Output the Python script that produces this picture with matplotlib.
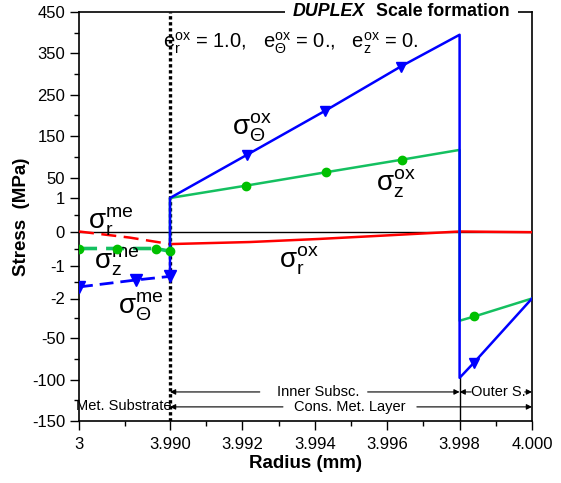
import matplotlib
matplotlib.use("Agg")
import matplotlib.pyplot as plt
import numpy as np
from matplotlib.patches import Rectangle

plt.rcParams["font.family"] = ["Liberation Sans", "DejaVu Sans"]
plt.rcParams["mathtext.fontset"] = "custom"
plt.rcParams["mathtext.rm"] = "Liberation Sans"
plt.rcParams["mathtext.it"] = "Liberation Sans"
plt.rcParams["mathtext.bf"] = "Liberation Sans:bold"
plt.rcParams["mathtext.default"] = "regular"

# --- DATA ---
# metal substrate (dashed)
r_me_x = [3.0, 3.555, 3.990]
r_me_y = [0.0, -0.18, -0.37]
z_me_x = [3.0, 3.417, 3.834, 3.990]
z_me_y = [-0.50, -0.50, -0.50, -0.58]
t_me_x = [3.0, 3.617, 3.990]
t_me_y = [-1.65, -1.44, -1.33]

# oxide scale (solid)
t_ox_x = [3.990, 3.990, 3.99212, 3.99428, 3.99637, 3.998, 3.998, 3.99839, 4.000]
t_ox_y = [-1.33, 1.0, 104.5, 211.0, 318.0, 395.0, -98.0, -80.0, -2.0]
t_ox_mark_x = [3.99212, 3.99428, 3.99637, 3.99839]
t_ox_mark_y = [104.5, 211.0, 318.0, -80.0]

z_ox_x = [3.990, 3.990, 3.99209, 3.99430, 3.99640, 3.998, 3.998, 3.99841, 4.000]
z_ox_y = [-0.58, 1.0, 30.4, 62.6, 93.0, 116.7, -29.0, -23.8, -2.0]
z_ox_mark_x = [3.99209, 3.99430, 3.99640, 3.99841]
z_ox_mark_y = [30.4, 62.6, 93.0, -23.8]

r_ox_x = [3.990, 3.9922, 3.9941, 3.9959, 3.998, 4.000]
r_ox_y = [-0.37, -0.31, -0.22, -0.12, 0.0, -0.02]

x_ticks = [3.0, 3.990, 3.992, 3.994, 3.996, 3.998, 4.000]
x_labels = ["3", "3.990", "3.992", "3.994", "3.996", "3.998", "4.000"]
x_minor = [3.495, 3.991, 3.993, 3.995, 3.997, 3.999]
y_ticks = [-150, -100, -50, -2, -1, 0, 1, 50, 150, 250, 350, 450]
y_labels = ["-150", "-100", "-50", "-2", "-1", "0", "1", "50", "150", "250", "350", "450"]
y_minor = [-125, -75, -26, -1.5, -0.5, 0.5, 100, 200, 300, 400]

# piecewise (broken) axis scales
X_BREAK = [3.0, 3.990, 4.000]
X_SPAN = [0.0, 91.0, 453.0]
Y_BREAK = [-150, -50, -2, -1, 0, 1, 50, 450]
Y_SPAN = [0.0, 83.0, 122.5, 155.5, 189.5, 223.0, 243.5, 409.0]


def x_fwd(v):
    return np.interp(v, X_BREAK, X_SPAN)


def x_inv(v):
    return np.interp(v, X_SPAN, X_BREAK)


def y_fwd(v):
    return np.interp(v, Y_BREAK, Y_SPAN)


def y_inv(v):
    return np.interp(v, Y_SPAN, Y_BREAK)


BLUE = "#0000ff"
RED = "#ff0000"
GREEN_L = "#14c060"
GREEN_M = "#00c000"

fig = plt.figure(figsize=(5.61, 4.83), dpi=100)
ax = fig.add_axes([79 / 561, 1 - 421 / 483, 453 / 561, 409 / 483])
ax.set_xscale("function", functions=(x_fwd, x_inv))
ax.set_yscale("function", functions=(y_fwd, y_inv))
ax.set_xlim(3.0, 4.000)
ax.set_ylim(-150, 450)

# reference lines
ax.axhline(0, color="black", lw=1.0, zorder=1)
ax.axvline(3.990, color="black", lw=2.4, ls=(0, (1, 0.8)), zorder=1.5)
ax.plot([3.998, 3.998], [-150, -98], color="black", lw=1.0, zorder=1)

# metal substrate, dashed
ax.plot(r_me_x, r_me_y, color=RED, lw=1.8, ls=(0, (6, 3)), zorder=3)
ax.plot(z_me_x, z_me_y, color=GREEN_L, lw=2.6, ls=(0, (5, 2.5)), zorder=3)
ax.plot(z_me_x, z_me_y, ls="none", marker="o", ms=6, color=GREEN_M, zorder=4)
ax.plot(t_me_x, t_me_y, color=BLUE, lw=2.0, ls=(0, (5, 2.5)), zorder=3)
ax.plot(t_me_x, t_me_y, ls="none", marker="v", ms=8, color=BLUE, zorder=4)

# oxide, solid
ax.plot(r_ox_x, r_ox_y, color=RED, lw=1.8, zorder=3)
ax.plot(z_ox_x, z_ox_y, color=GREEN_L, lw=1.8, zorder=3)
ax.plot(z_ox_mark_x, z_ox_mark_y, ls="none", marker="o", ms=6, color=GREEN_M, zorder=4)
ax.plot(t_ox_x, t_ox_y, color=BLUE, lw=1.8, zorder=3.5)
ax.plot(t_ox_mark_x, t_ox_mark_y, ls="none", marker="v", ms=7, color=BLUE, zorder=4)

# ticks
ax.set_xticks(x_ticks)
ax.set_xticklabels(x_labels)
ax.set_xticks(x_minor, minor=True)
ax.set_yticks(y_ticks)
ax.set_yticklabels(y_labels)
ax.set_yticks(y_minor, minor=True)
ax.tick_params(which="both", direction="out", width=1.0, labelsize=12,
               top=False, right=False)
ax.tick_params(which="major", length=6.5)
ax.tick_params(which="minor", length=3.5)
ax.tick_params(axis="x", pad=5)
for s in ax.spines.values():
    s.set_linewidth(1.2)

ax.set_xlabel("Radius (mm)", fontsize=13.5, fontweight="bold", labelpad=2)
ax.set_ylabel("Stress  (MPa)", fontsize=13.5, fontweight="bold")
ax.yaxis.set_label_coords(-0.108, 0.5)


def px(x, y):
    return ((x - 79) / 453, (421 - y) / 409)


# title breaking the top frame
ax.add_patch(Rectangle(px(285, 20), 233 / 453, 16 / 409, transform=ax.transAxes,
                       fc="white", ec="none", clip_on=False, zorder=4))
ax.text(*px(510, 12), "Scale formation", transform=ax.transAxes, ha="right",
        va="center", fontsize=12.8, fontweight="bold", zorder=5)
ax.text(*px(293, 12), "DUPLEX", transform=ax.transAxes, ha="left",
        va="center", fontsize=12.8, fontweight="bold", style="italic", zorder=5)

ax.text(*px(163, 43), r"$e^{ox}_{r}$ = 1.0,   $e^{ox}_{\Theta}$ = 0.,   $e^{ox}_{z}$ = 0.",
        transform=ax.transAxes, ha="left", va="center", fontsize=14.5)

lab_kw = dict(transform=ax.transAxes, ha="left", va="center", fontsize=20)
ax.text(*px(232, 128), r"$\sigma^{ox}_{\Theta}$", **lab_kw)
ax.text(*px(376, 184), r"$\sigma^{ox}_{z}$", **lab_kw)
ax.text(*px(279, 261), r"$\sigma^{ox}_{r}$", **lab_kw)
ax.text(*px(88, 222), r"$\sigma^{me}_{r}$", **lab_kw)
ax.text(*px(94, 262), r"$\sigma^{me}_{z}$", **lab_kw)
ax.text(*px(118, 307), r"$\sigma^{me}_{\Theta}$", **lab_kw)

# layer annotations: arrows drawn in halves with a gap for the label
arr = dict(arrowstyle="-|>", lw=0.8, color="black", shrinkA=0, shrinkB=0,
           mutation_scale=8)


def span_arrow(x0, x1, gap0, gap1, y):
    ax.annotate("", xy=(x0, y), xytext=(gap0, y), arrowprops=arr)
    ax.annotate("", xy=(x1, y), xytext=(gap1, y), arrowprops=arr)


span_arrow(3.990, 3.998, 3.99248, 3.99546, -115)
span_arrow(3.998, 4.000, 3.99832, 3.99980, -115)
span_arrow(3.990, 4.000, 3.99312, 3.99682, -133)
ax.text(3.9941, -115, "Inner Subsc.", ha="center", va="center", fontsize=10.5)
ax.text(3.99906, -115, "Outer S.", ha="center", va="center", fontsize=10.5)
ax.text(3.99496, -133, "Cons. Met. Layer", ha="center", va="center", fontsize=10.5)
ax.text(*px(124, 406), "Met. Substrate", transform=ax.transAxes, ha="center",
        va="center", fontsize=10.5, zorder=5)

fig.savefig("out.png", dpi=100, facecolor="white")
